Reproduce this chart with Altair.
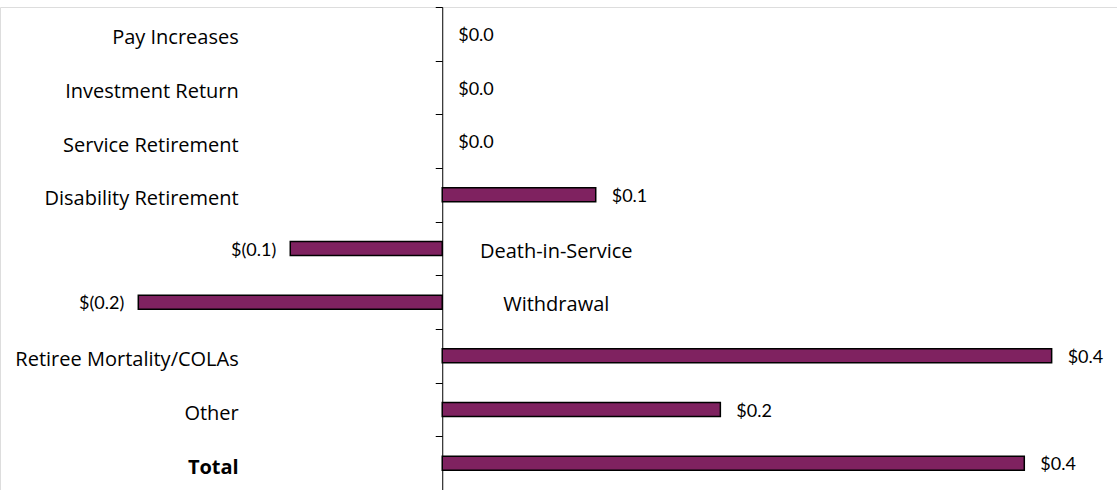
import altair as alt
import pandas as pd

categories = ["Pay Increases", "Investment Return", "Service Retirement",
              "Disability Retirement", "Death-in-Service", "Withdrawal",
              "Retiree Mortality/COLAs", "Other", "Total"]
values = [0.0, 0.0, 0.0, 0.101, -0.100, -0.200, 0.401, 0.183, 0.383]

df = pd.DataFrame({"category": categories, "value": values})

W, H = 1117, 483
xmin, xmax = -0.291, 0.444
zero_px = W * (0 - xmin) / (xmax - xmin)

neg_cats = [c for c, v in zip(categories, values) if v < 0]
hide_expr = " || ".join([f"datum.label == '{c}'" for c in neg_cats])
label_expr = f"({hide_expr}) ? '' : datum.label"

CAT_FONT = "Open Sans"
CAT_FS = 20
VAL_FONT = "Lato"
VAL_FS = 18
COLOR = "#7f2260"

yenc = alt.Y("category:N", sort=categories,
             scale=alt.Scale(paddingInner=0, paddingOuter=0),
             axis=alt.Axis(title=None, orient="left", offset=-zero_px,
                           domainColor="black", domainWidth=1,
                           tickColor="black", tickSize=7, tickWidth=1,
                           tickBand="extent", labelPadding=197,
                           labelFont=CAT_FONT, labelFontSize=CAT_FS, labelColor="black",
                           labelOffset=4, labelLimit=400, labelExpr=label_expr,
                           labelFontWeight={"condition": {"test": "datum.value == 'Total'", "value": "bold"}, "value": "normal"},
                           grid=False))
xenc = alt.X("value:Q", scale=alt.Scale(domain=[xmin, xmax], nice=False, zero=False), axis=None)

base = alt.Chart(df).transform_calculate(
    label="datum.value < 0 ? '$(' + format(-datum.value, '.1f') + ')' : '$' + format(datum.value, '.1f')"
)

bars = base.transform_filter("datum.value != 0").mark_bar(
    height=14, fill=COLOR, stroke="black", strokeWidth=1.5
).encode(x=xenc, y=yenc)

pos_labels = base.transform_filter("datum.value >= 0").mark_text(
    align="left", baseline="middle", dx=16, dy=2, font=VAL_FONT, fontSize=VAL_FS, color="black"
).encode(x=xenc, y=yenc, text="label:N")

neg_labels = base.transform_filter("datum.value < 0").mark_text(
    align="right", baseline="middle", dx=-14, dy=2, font=VAL_FONT, fontSize=VAL_FS, color="black"
).encode(x=xenc, y=yenc, text="label:N")

neg_cat_labels = base.transform_filter("datum.value < 0").mark_text(
    align="center", baseline="middle", dx=114, dy=3, font=CAT_FONT, fontSize=CAT_FS, color="black"
).encode(x=alt.datum(0), y=yenc, text="category:N")

chart = alt.layer(bars, pos_labels, neg_labels, neg_cat_labels).properties(
    width=W, height=H,
    autosize=alt.AutoSizeParams(type="none"),
    padding={"left": 0, "top": 7, "right": 0, "bottom": 0},
).configure_view(stroke=None).configure(background="white")

chart.save("out.html", embed_options={"renderer": "svg", "actions": False})
